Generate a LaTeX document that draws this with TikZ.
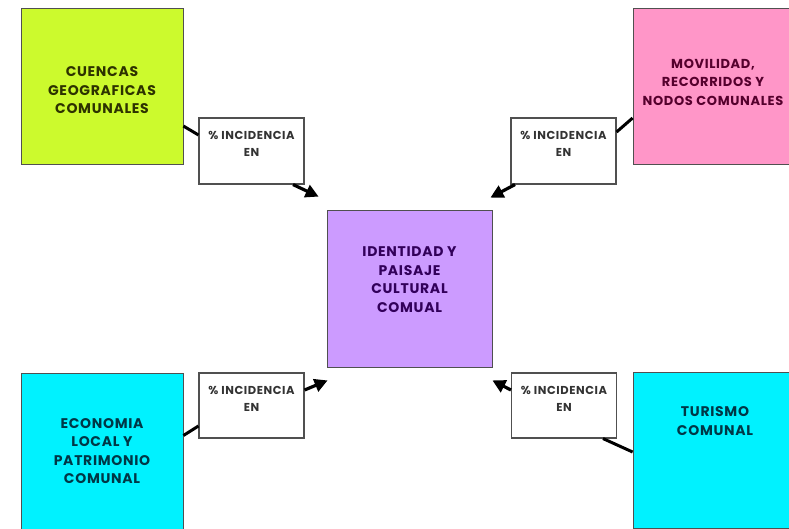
\documentclass[tikz,border=0pt]{standalone}
\usepackage{fontspec}
\setmainfont{Poppins}[LetterSpace=5]
\usetikzlibrary{positioning,arrows.meta}
\definecolor{lima}{RGB}{204,250,45}
\definecolor{rosa}{RGB}{255,150,200}
\definecolor{lila}{RGB}{204,155,255}
\definecolor{celeste}{RGB}{0,242,255}
\definecolor{frame}{RGB}{80,80,80}

\begin{document}
\begin{tikzpicture}[x=1pt,y=-1pt,
  mainbox/.style={draw=frame, line width=0.8pt, minimum width=162pt, minimum height=156pt, inner sep=0pt},
  maintext/.style={font=\fontsize{14}{18.5}\selectfont\bfseries, align=center},
  incbox/.style={draw=frame, fill=white, line width=1.1pt, minimum width=105pt, minimum height=66pt, inner sep=0pt},
  inctext/.style={font=\fontsize{11.5}{17}\selectfont\bfseries, text=black!80, align=center},
  stub/.style={line width=3pt},
  arr/.style={line width=3.2pt, -{Triangle[length=13pt,width=13pt]}}]
\clip (0,0) rectangle (789,528);

% cajas principales
\node[mainbox, fill=lima] (cuencas) at (102,86.5) {};
\node[mainbox, fill=rosa, minimum width=164pt] (movilidad) at (715,86) {};
\node[mainbox, fill=lila, minimum width=165pt, minimum height=157pt] (identidad) at (409.5,288.5) {};
\node[mainbox, fill=celeste] (economia) at (102,451) {};
\node[mainbox, fill=celeste, minimum width=164pt] (turismo) at (715,450) {};

\node[maintext, text={rgb,255:red,45;green,50;blue,0}] (cuencasTxt) at ([yshift=-4pt]cuencas.center) {CUENCAS\\GEOGRAFICAS\\COMUNALES};
\node[maintext, font=\fontsize{13}{18.5}\selectfont\bfseries, text={rgb,255:red,85;green,0;blue,45}] (movilidadTxt) at ([xshift=-2pt,yshift=4pt]movilidad.center) {MOVILIDAD,\\RECORRIDOS Y\\NODOS COMUNALES};
\node[maintext, text={rgb,255:red,50;green,0;blue,90}] (identidadTxt) at ([yshift=9pt]identidad.center) {IDENTIDAD Y\\PAISAJE\\CULTURAL\\COMUAL};
\node[maintext, text={rgb,255:red,0;green,55;blue,70}] (economiaTxt) at (economia.center) {ECONOMIA\\LOCAL Y\\PATRIMONIO\\COMUNAL};
\node[maintext, text={rgb,255:red,0;green,55;blue,70}] (turismoTxt) at ([yshift=29pt]turismo.center) {TURISMO\\COMUNAL};

% cajas de incidencia
\node[incbox] (incTL) at (251.5,151) {};
\node[incbox] (incTR) at (563.5,151) {};
\node[incbox, minimum height=65pt] (incBL) at (251.5,405.5) {};
\node[incbox, minimum height=65pt] (incBR) at (564,405.5) {};
\foreach \b in {incTL,incTR,incBL,incBR}{
  \node[inctext, below=10pt of \b.north] (\b Txt) {\% INCIDENCIA\\EN};
}

% puntas junto al centro
\coordinate[above left=13pt and 8pt of identidad.north west] (tipTL);
\coordinate[above left=12pt and 2pt of identidad.north east] (tipTR);
\coordinate[below right=13pt and 1pt of identidad.south west] (tipBL);
\coordinate[below=13pt of identidad.south east] (tipBR);

% conectores
\draw[stub] ([yshift=-39.5pt]cuencas.east) -- ([yshift=16pt]incTL.west);
\draw[stub] ([yshift=-32pt]movilidad.west) -- ([yshift=19pt]incTR.east);
\draw[stub] ([yshift=15.5pt]economia.east) -- ([yshift=-20.5pt]incBL.west);
\draw[stub] ([xshift=39pt]incBR.south) -- ([yshift=-2pt]turismo.west);

\draw[arr] ([xshift=41.5pt]incTL.south) -- (tipTL);
\draw[arr] ([xshift=-48.5pt]incTR.south) -- (tipTR);
\draw[arr] ([yshift=15.5pt]incBL.east) -- (tipBL);
\draw[arr] ([yshift=15.5pt]incBR.west) -- (tipBR);
\end{tikzpicture}
\end{document}
